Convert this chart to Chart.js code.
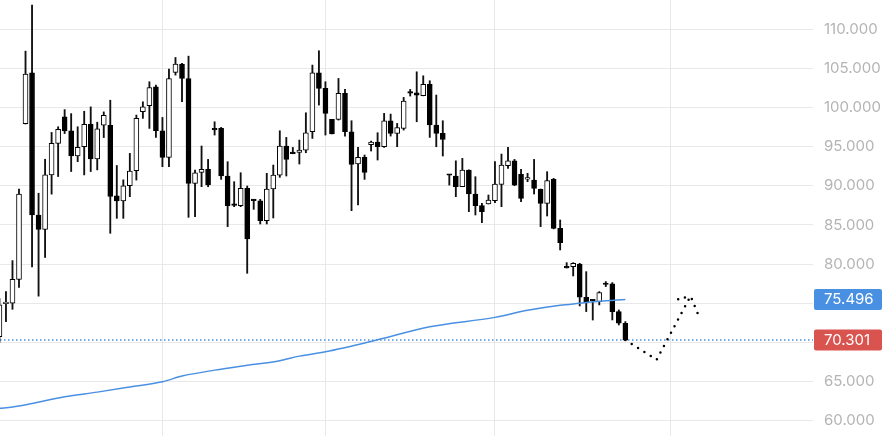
<!DOCTYPE html>
<html>
<head>
<meta charset="utf-8">
<script src="https://cdn.jsdelivr.net/npm/chart.js@4.4.1/dist/chart.umd.min.js"></script>
<style>
  html, body { margin: 0; padding: 0; background: #fff; }
  #wrap { width: 884px; height: 436px; }
</style>
</head>
<body>
<div id="wrap"><canvas id="chart" width="884" height="436"></canvas></div>
<script>
// daily candles, one per trading day (index = position on the x axis)
const opens = [
  70.74, 74.95, 75.0, 78.04, 97.96, 104.45, 86.28, 84.45, 91.4, 95.43,
  98.81, 97.02, 93.81, 95.0, 97.87, 93.43, 97.74, 97.74, 88.72, 88.09,
  90.02, 91.94, 99.47, 100.23, 102.66, 97.04, 93.64, 104.49, 105.55, 103.72,
  90.32, 91.72, 92.11, 97.3, 97.34, 91.26, 87.6, 87.47, 89.68, 88.25,
  88.1, 85.55, 89.6, 91.38, 95.09, 94.2, 94.28, 94.57, 96.91, 104.45,
  102.45, 98.49, 98.49, 101.81, 96.91, 92.79, 93.64, 95.26, 95.6, 95.0,
  98.32, 96.7, 97.34, 101.95, 101.89, 101.51, 102.96, 97.77, 96.7, 91.42,
  91.26, 89.89, 92.02, 88.96, 87.47, 87.68, 88.11, 90.19, 92.57, 93.21,
  91.47, 90.87, 90.74, 89.55, 87.77, 90.83, 84.57, 79.6, 79.68, 80.02,
  75.77, 75.38, 75.21, 77.47, 77.47, 73.94, 72.45
];
const highs = [
  75.6, 76.5, 80.45, 89.6, 107.21, 113.1, 89.06, 93.4, 96.83, 97.55,
  99.74, 99.23, 97.55, 99.53, 100.09, 98.13, 99.45, 100.94, 92.6, 90.77,
  94.15, 99.04, 100.74, 103.3, 102.87, 98.74, 104.91, 106.4, 105.64, 106.57,
  92.02, 95.09, 93.38, 98.19, 97.47, 93.09, 90.53, 91.68, 89.98, 88.28,
  88.28, 91.6, 92.66, 97.04, 96.19, 94.91, 95.85, 99.34, 105.43, 107.26,
  103.3, 98.49, 103.72, 102.32, 98.32, 94.91, 93.94, 95.72, 96.79, 99.26,
  99.17, 97.98, 101.3, 102.32, 104.57, 104.06, 103.43, 101.6, 98.32, 91.45,
  93.2, 93.51, 92.05, 91.17, 87.77, 88.83, 93.09, 94.06, 94.91, 93.38,
  92.11, 91.6, 93.38, 89.6, 91.81, 90.96, 85.64, 80.19, 80.19, 80.1,
  79.04, 75.45, 76.49, 77.77, 77.64, 74.15, 72.66
];
const lows = [
  70.0, 72.66, 74.23, 77.02, 97.9, 79.66, 75.91, 80.85, 88.94, 91.19,
  96.68, 91.83, 93.09, 91.4, 91.83, 92.04, 96.17, 83.94, 85.85, 85.85,
  88.62, 90.74, 98.62, 97.34, 96.19, 92.45, 92.45, 104.15, 100.74, 85.98,
  86.06, 89.89, 89.89, 96.49, 90.83, 84.79, 87.34, 87.34, 78.83, 87.0,
  85.13, 85.13, 85.9, 91.09, 91.26, 94.1, 92.79, 94.23, 96.06, 100.32,
  96.49, 96.62, 98.4, 96.36, 86.83, 87.55, 90.83, 94.45, 93.3, 94.91,
  96.36, 95.0, 97.13, 101.47, 98.19, 101.5, 96.19, 95.0, 93.81, 90.1,
  88.62, 89.89, 86.7, 86.28, 85.3, 87.68, 87.85, 87.34, 92.23, 90.02,
  87.98, 90.53, 88.96, 84.79, 86.15, 84.5, 81.81, 79.5, 78.49, 74.66,
  73.94, 72.86, 74.79, 77.13, 72.87, 72.23, 70.301
];
const closes = [
  74.8, 75.05, 78.06, 88.94, 104.28, 86.28, 84.45, 91.4, 95.43, 97.21,
  97.02, 93.81, 94.91, 97.87, 93.43, 97.3, 99.02, 88.64, 88.09, 90.0,
  91.89, 98.62, 100.1, 102.57, 97.04, 93.64, 103.72, 105.55, 103.72, 90.32,
  91.68, 92.11, 90.11, 97.15, 91.26, 87.47, 87.5, 89.68, 83.21, 88.12,
  85.55, 89.6, 91.38, 95.09, 93.38, 94.12, 94.57, 96.79, 104.45, 102.45,
  99.26, 96.62, 101.81, 96.91, 92.74, 93.64, 91.72, 95.6, 95.0, 98.32,
  96.7, 97.43, 100.83, 101.85, 101.6, 102.96, 97.77, 96.7, 95.94, 91.35,
  89.89, 92.02, 88.96, 87.47, 86.7, 88.19, 90.23, 92.66, 93.21, 90.1,
  88.4, 91.04, 89.68, 87.77, 90.66, 84.57, 82.74, 79.52, 80.1, 75.77,
  75.09, 75.3, 76.36, 77.4, 73.94, 72.45, 70.301
];

// long moving average, read at a few candles
const maDays = [0, 2, 5, 10, 15, 20, 25, 28, 33, 38, 43, 46, 50, 58, 66, 76, 81, 86, 89, 92, 96];
const maValues = [61.58, 61.75, 62.2, 63.05, 63.65, 64.3, 64.97, 65.7, 66.46, 67.08, 67.66,
  68.25, 68.8, 70.33, 72.0, 73.2, 74.1, 74.75, 75.0, 75.25, 75.496];

// dotted projection after the last candle
const projDays = [96, 100.8, 106.0, 107.1];
const projValues = [70.301, 67.79, 75.93, 73.7];
const projDays2 = [104.1, 106.0];
const projValues2 = [75.5, 75.93];

const monthLines = [25, 50, 76, 103];
const yTicks = [60, 65, 70, 75, 80, 85, 90, 95, 100, 105, 110];

const xMin = 0.086, xMax = 124.78;
const lastClose = closes[closes.length - 1];
const maLast = maValues[maValues.length - 1];
const BLUE = '#4a90e2';
const RED = '#d9534f';
const FONT = 'Inter, "Helvetica Neue", Arial, sans-serif';

// coloured value tags on the price axis
const priceTags = {
  id: 'priceTags',
  afterDraw(chart) {
    const { ctx, chartArea } = chart;
    const y = chart.scales.y;
    [[maLast, BLUE], [lastClose, RED]].forEach(([v, c]) => {
      const py = y.getPixelForValue(v);
      ctx.save();
      ctx.fillStyle = c;
      ctx.beginPath();
      ctx.roundRect(chartArea.right + 1, py - 10.5, 68, 21, 2);
      ctx.fill();
      ctx.fillStyle = '#fff';
      ctx.font = '15px ' + FONT;
      ctx.textBaseline = 'middle';
      ctx.textAlign = 'left';
      ctx.fillText(v.toFixed(3), chartArea.right + 11, py + 0.5);
      ctx.restore();
    });
  }
};

new Chart(document.getElementById('chart'), {
  type: 'bar',
  data: {
    datasets: [
      {
        type: 'line',
        data: maDays.map((d, k) => ({ x: d, y: maValues[k] })),
        borderColor: BLUE,
        borderWidth: 1.5,
        pointRadius: 0,
        cubicInterpolationMode: 'monotone',
        order: 0
      },
      {
        type: 'bar',
        data: opens.map((o, i) => ({ x: i, y: [o, closes[i]] })),
        backgroundColor: closes.map((c, i) => c >= opens[i] ? '#ffffff' : '#000000'),
        borderColor: '#000000',
        borderWidth: 1,
        borderSkipped: false,
        barThickness: 5,
        minBarLength: 1.5,
        grouped: false,
        order: 1
      },
      {
        type: 'bar',
        data: lows.map((l, i) => ({ x: i, y: [l, highs[i]] })),
        backgroundColor: '#111111',
        barThickness: 1.2,
        grouped: false,
        order: 2
      },
      {
        type: 'line',
        data: [{ x: xMin, y: lastClose }, { x: xMax, y: lastClose }],
        borderColor: BLUE,
        borderWidth: 1.4,
        borderDash: [1.5, 2.5],
        pointRadius: 0,
        order: 3
      },
      {
        type: 'line',
        data: projDays.map((d, k) => ({ x: d, y: projValues[k] })),
        borderColor: '#000000',
        borderWidth: 2.5,
        borderDash: [0, 7.5],
        borderCapStyle: 'round',
        pointRadius: 0,
        order: 0
      },
      {
        type: 'line',
        data: projDays2.map((d, k) => ({ x: d, y: projValues2[k] })),
        borderColor: '#000000',
        borderWidth: 2.5,
        borderDash: [0, 7],
        borderCapStyle: 'round',
        pointRadius: 0,
        order: 0
      }
    ]
  },
  options: {
    responsive: false,
    animation: false,
    layout: { padding: 0 },
    plugins: { legend: { display: false }, tooltip: { enabled: false } },
    scales: {
      x: {
        type: 'linear',
        min: xMin,
        max: xMax,
        offset: false,
        grid: { color: '#e8e8e8', drawTicks: false, offset: false },
        border: { display: false },
        ticks: { display: false },
        afterBuildTicks: s => { s.ticks = monthLines.map(v => ({ value: v })); },
        afterFit: s => { s.height = 0; s.paddingLeft = 0; s.paddingRight = 0; }
      },
      y: {
        type: 'linear',
        position: 'right',
        min: 58.045,
        max: 113.743,
        grid: { color: '#e8e8e8', drawTicks: false },
        border: { display: false },
        ticks: {
          padding: 11,
          color: '#b4b4b4',
          font: { family: FONT, size: 15 },
          callback: v => v.toFixed(3)
        },
        afterBuildTicks: s => { s.ticks = yTicks.map(v => ({ value: v })); },
        afterFit: s => { s.width = 71; s.paddingTop = 0; s.paddingBottom = 0; }
      }
    }
  },
  plugins: [priceTags]
});
</script>
</body>
</html>
